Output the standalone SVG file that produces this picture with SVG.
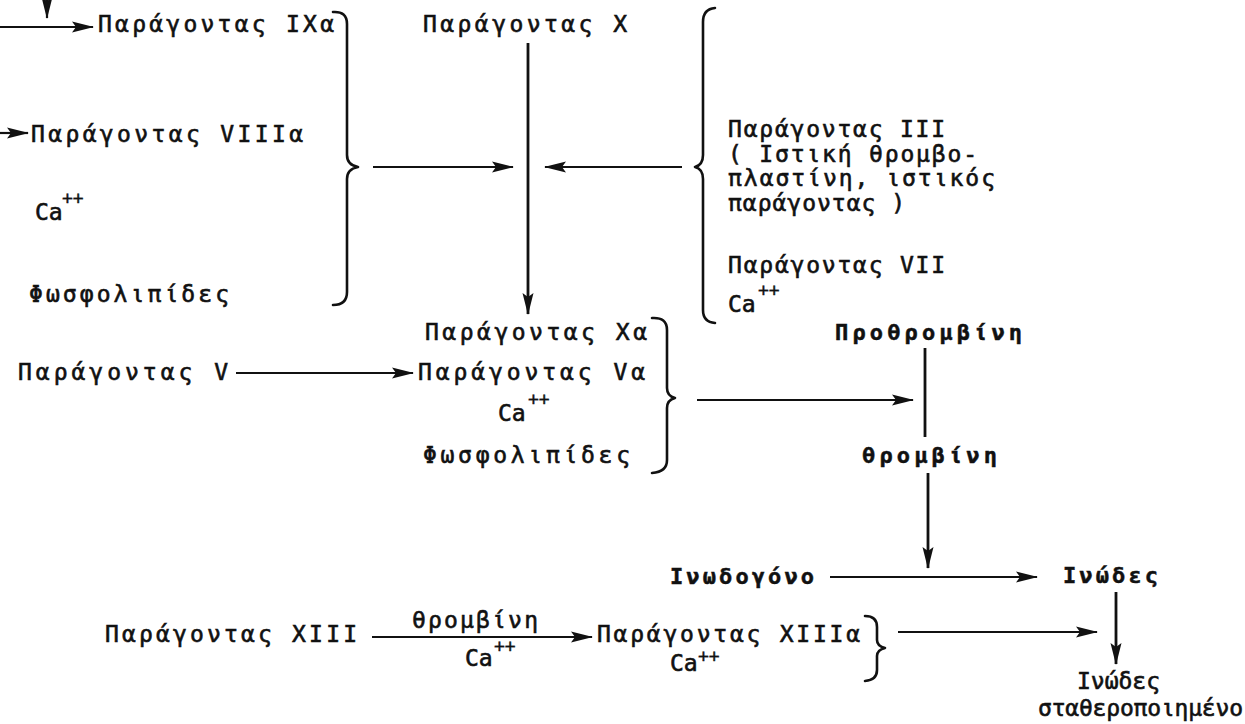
<svg xmlns="http://www.w3.org/2000/svg" width="1245" height="724" viewBox="0 0 1245 724">
<style>
text{font-family:"DejaVu Sans Mono","Liberation Mono",monospace;font-size:23px;fill:#111;stroke:#111;stroke-width:0.6}
.b{font-weight:bold;font-size:22px;stroke-width:0.5}
.sup{font-size:18px;stroke-width:0.4}
.ln{stroke:#111;stroke-width:2.2;fill:none}
.vl{stroke:#111;stroke-width:2.8;fill:none}
.br{stroke:#111;stroke-width:2.6;fill:none;stroke-linecap:round;stroke-linejoin:round}
</style>
<defs>
<marker id="ah" viewBox="0 0 22 13" refX="21" refY="6.5" markerWidth="22" markerHeight="13" orient="auto" markerUnits="userSpaceOnUse">
<path d="M0,1 L22,6.5 L0,12 L4,6.5 z" fill="#111"/>
</marker>
</defs>
<rect width="1245" height="724" fill="#fff"/>

<g id="connectors">
<line class="ln" x1="47" y1="-2" x2="47" y2="18" marker-end="url(#ah)"/>
<line class="ln" x1="-2" y1="27" x2="93" y2="27" marker-end="url(#ah)"/>
<line class="ln" x1="-2" y1="133" x2="28" y2="133" marker-end="url(#ah)"/>
<line class="ln" x1="373" y1="167" x2="513" y2="167" marker-end="url(#ah)"/>
<line class="ln" x1="682" y1="167" x2="545" y2="167" marker-end="url(#ah)"/>
<line class="vl" x1="528" y1="43" x2="528" y2="314" marker-end="url(#ah)"/>
<line class="ln" x1="236" y1="373" x2="413" y2="373" marker-end="url(#ah)"/>
<line class="ln" x1="697" y1="400" x2="913" y2="400" marker-end="url(#ah)"/>
<line class="vl" x1="925" y1="348" x2="925" y2="437"/>
<line class="vl" x1="928" y1="473" x2="928" y2="568" marker-end="url(#ah)"/>
<line class="ln" x1="830" y1="577" x2="1037" y2="577" marker-end="url(#ah)"/>
<line class="vl" x1="1116" y1="592" x2="1116" y2="664" marker-end="url(#ah)"/>
<line class="ln" x1="372" y1="637" x2="592" y2="637" marker-end="url(#ah)"/>
<line class="ln" x1="898" y1="632" x2="1097" y2="632" marker-end="url(#ah)"/>
</g>

<g id="group-ixa">
<text x="98" y="32" textLength="236" lengthAdjust="spacing">Παράγοντας IXα</text>
<text x="31" y="142" textLength="272" lengthAdjust="spacing">Παράγοντας VIIIα</text>
<text x="35" y="220">Ca</text><text class="sup" x="62" y="204">++</text>
<text x="29" y="302" textLength="200" lengthAdjust="spacing">Φωσφολιπίδες</text>
<path class="br" d="M333,12 Q347,11 347,24 L347,155 Q347,165 358,167 Q347,169 347,179 L347,292 Q347,305 333,305"/>
</g>

<g id="factor-x">
<text x="423" y="32" textLength="204" lengthAdjust="spacing">Παράγοντας X</text>
</g>

<g id="group-tissue">
<path class="br" d="M715,8 Q703,9 703,22 L703,155 Q703,165 695,167 Q703,169 703,179 L703,310 Q703,322 715,323"/>
<text x="728" y="137" textLength="217" lengthAdjust="spacing">Παράγοντας III</text>
<text x="728" y="162" textLength="249" lengthAdjust="spacing">( Ιστική θρομβο-</text>
<text x="728" y="186" textLength="267" lengthAdjust="spacing">πλαστίνη, ιστικός</text>
<text x="728" y="211" textLength="177" lengthAdjust="spacing">παράγοντας )</text>
<text x="728" y="273" textLength="217" lengthAdjust="spacing">Παράγοντας VII</text>
<text x="728" y="312">Ca</text><text class="sup" x="758" y="296">++</text>
</g>

<g id="factor-v">
<text x="18" y="380" textLength="210" lengthAdjust="spacing">Παράγοντας V</text>
</g>

<g id="group-xa">
<text x="425" y="340" textLength="222" lengthAdjust="spacing">Παράγοντας Xα</text>
<text x="418" y="380" textLength="227" lengthAdjust="spacing">Παράγοντας Vα</text>
<text x="498" y="421">Ca</text><text class="sup" x="528" y="405">++</text>
<text x="423" y="463" textLength="207" lengthAdjust="spacing">Φωσφολιπίδες</text>
<path class="br" d="M652,318 Q667,317 667,330 L667,388 Q667,396 675,398 Q667,400 667,408 L667,460 Q667,472 652,473"/>
</g>

<g id="prothrombin">
<text class="b" x="835" y="340" textLength="187" lengthAdjust="spacing">Προθρομβίνη</text>
</g>
<g id="thrombin">
<text class="b" x="862" y="463" textLength="135" lengthAdjust="spacing">θρομβίνη</text>
</g>
<g id="fibrinogen">
<text class="b" x="670" y="584" textLength="144" lengthAdjust="spacing">Ινωδογόνο</text>
</g>
<g id="fibrin">
<text class="b" x="1063" y="583" textLength="95" lengthAdjust="spacing">Ινώδες</text>
</g>

<g id="factor-xiii">
<text x="105" y="642" textLength="252" lengthAdjust="spacing">Παράγοντας XIII</text>
</g>
<g id="xiii-label">
<text x="412" y="628" textLength="126" lengthAdjust="spacing">θρομβίνη</text>
<text x="465" y="666">Ca</text><text class="sup" x="494" y="652">++</text>
</g>
<g id="group-xiiia">
<text x="597" y="642" textLength="263" lengthAdjust="spacing">Παράγοντας XIIIα</text>
<text x="670" y="671">Ca</text><text class="sup" x="698" y="662" font-size="16">++</text>
<path class="br" d="M865,616 Q877,616 877,627 L877,640 Q877,646 885,648 Q877,650 877,656 L877,670 Q877,680 865,681"/>
</g>

<g id="stable-fibrin">
<text x="1077" y="689" font-size="22" textLength="83" lengthAdjust="spacing">Ινώδες</text>
<text x="1038" y="716" font-size="22" textLength="205" lengthAdjust="spacing">σταθεροποιημένο</text>
</g>
</svg>
